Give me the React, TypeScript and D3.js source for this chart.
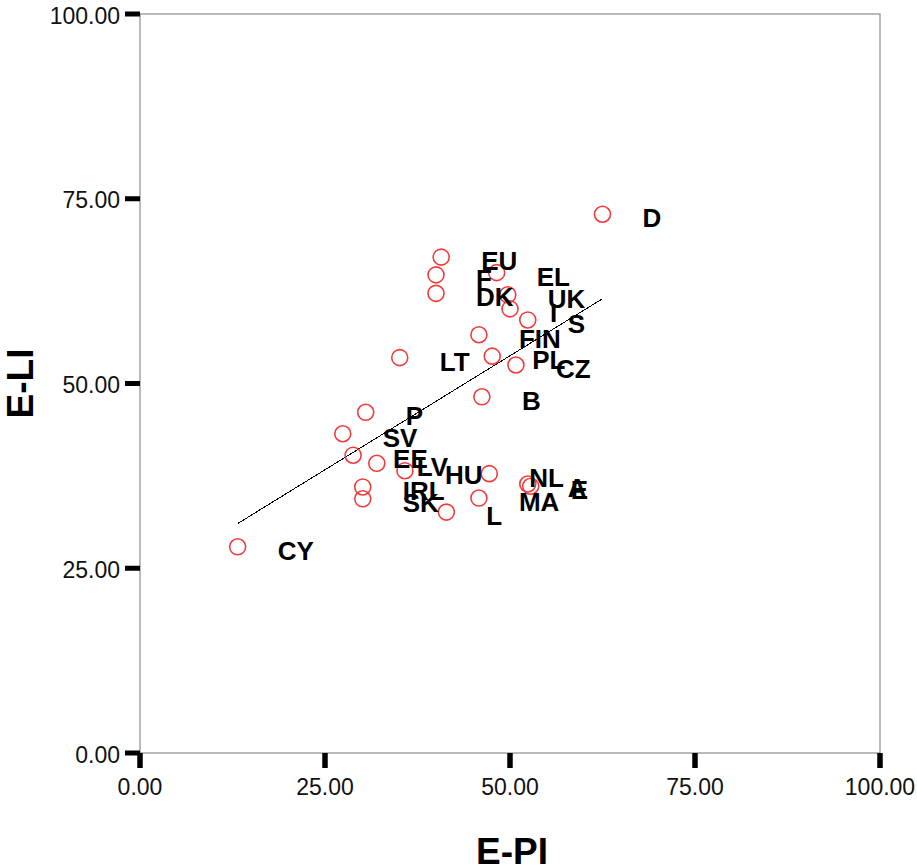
import React from "react";
import * as d3 from "d3";

const labels = ["CY","D","EU","F","DK","EL","UK","I","S","FIN","PL","CZ","LT","B","P","SV","EE","LV","HU","IRL","SK","L","MA","NL","A","E"];
const epi = [13.2,62.5,40.7,40.0,40.0,48.2,49.7,50.0,52.4,45.8,47.6,50.8,35.1,46.2,30.5,27.4,28.8,32.0,35.8,30.1,30.1,41.4,45.8,47.2,52.4,52.8];
const eli = [27.9,72.9,67.1,64.7,62.2,65.0,62.0,60.1,58.6,56.6,53.7,52.5,53.5,48.2,46.1,43.2,40.3,39.2,38.2,36.0,34.4,32.6,34.5,37.8,36.4,36.1];
const ticks = [0, 25, 50, 75, 100];

export default function App() {
  const W = 917, H = 867;
  const x = d3.scaleLinear().domain([0, 100]).range([140, 880]);
  const y = d3.scaleLinear().domain([0, 100]).range([753, 14]);
  const fmt = d3.format(".2f");

  // least-squares fit
  const mx = d3.mean(epi)!, my = d3.mean(eli)!;
  let sxy = 0, sxx = 0;
  epi.forEach((v, i) => { sxy += (v - mx) * (eli[i] - my); sxx += (v - mx) * (v - mx); });
  const slope = sxy / sxx, icpt = my - slope * mx;
  const [x0, x1] = d3.extent(epi) as [number, number];
  const line = d3.line<number>().x(v => x(v)).y(v => y(icpt + slope * v));

  return (
    <svg width={W} height={H} style={{ position: "absolute", left: 0, top: 0 }} fontFamily="Liberation Sans, Arial, sans-serif">
      <rect x={0} y={0} width={W} height={H} fill="#fff" />
      <rect x={x(0)} y={y(100)} width={x(100) - x(0)} height={y(0) - y(100)} fill="none" stroke="#8c8c8c" strokeWidth={1.2} />
      {ticks.map(t => (
        <g key={"y" + t}>
          <line x1={x(0) - 15} x2={x(0)} y1={y(t)} y2={y(t)} stroke="#000" strokeWidth={5} />
          <text x={120} y={y(t) + 9.5} textAnchor="end" fontSize={23} fill="#111">{fmt(t)}</text>
        </g>
      ))}
      {ticks.map(t => (
        <g key={"x" + t}>
          <line x1={x(t)} x2={x(t)} y1={y(0)} y2={y(0) + 15} stroke="#000" strokeWidth={5.5} />
          <text x={x(t)} y={795} textAnchor="middle" fontSize={23} fill="#111">{fmt(t)}</text>
        </g>
      ))}
      <path d={line([x0, x1]) || ""} fill="none" stroke="#000" strokeWidth={1} shapeRendering="crispEdges" />
      {epi.map((v, i) => (
        <circle key={"c" + i} cx={x(v)} cy={y(eli[i])} r={8} fill="none" stroke="#f23c3c" strokeWidth={1.6} />
      ))}
      {epi.map((v, i) => (
        <text key={"t" + i} x={x(v) + 40} y={y(eli[i]) + 13} fontSize={26} fontWeight="bold" fill="#000">{labels[i]}</text>
      ))}
      <text x={512} y={864} textAnchor="middle" fontSize={37} fontWeight="bold" fill="#000">E-PI</text>
      <text transform={`translate(33, ${y(50)}) rotate(-90)`} textAnchor="middle" fontSize={37} fontWeight="bold" fill="#000">E-LI</text>
    </svg>
  );
}
